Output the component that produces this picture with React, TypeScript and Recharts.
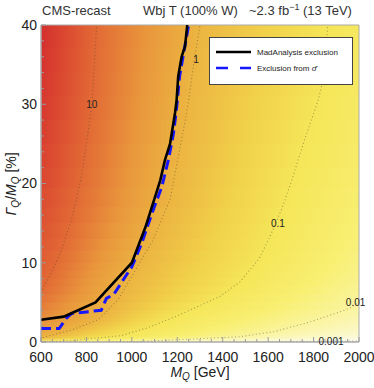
import React from 'react'
import { ComposedChart, XAxis, YAxis, Line, Scatter, ReferenceArea } from 'recharts'

type Pt = { x: number; y: number }

const xMajor = [600, 800, 1000, 1200, 1400, 1600, 1800, 2000]
const xMinor = [650, 700, 750, 850, 900, 950, 1050, 1100, 1150, 1250, 1300, 1350, 1450, 1500, 1550, 1650, 1700, 1750, 1850, 1900, 1950]
const yMajor = [0, 10, 20, 30, 40]
const yMinor = [2, 4, 6, 8, 12, 14, 16, 18, 22, 24, 26, 28, 32, 34, 36, 38]

// exclusion curves, M_Q [GeV] vs Gamma_Q/M_Q [%]
const madMass = [600, 700, 840, 1000, 1060, 1125, 1146, 1168, 1190, 1197, 1204, 1219, 1234, 1244]
const madWidth = [2.8, 3.2, 5.0, 10.0, 14.5, 20.4, 23.0, 25.0, 28.9, 30.5, 33.5, 36.0, 37.3, 40.0]
const sigMass = [600, 680, 712, 735, 865, 888, 920, 1000, 1044, 1088, 1132, 1161, 1183, 1197, 1210, 1225, 1250]
const sigWidth = [1.7, 1.7, 3.0, 3.6, 4.0, 5.5, 6.0, 9.5, 12.5, 16.2, 19.6, 23.0, 26.3, 29.5, 33.5, 36.0, 40.0]

// contour lines of the cross-section map (points past the frame only steer the colour map)
const c100Mass = [-600, 100, 250, 400, 490, 540]
const c100Width = [0, 3, 10, 20, 30, 40]
const c10Mass = [100, 400, 520, 600, 645, 690, 740, 779, 805, 824, 835, 845]
const c10Width = [0, 2, 4.5, 6.3, 8.7, 11.6, 16, 21, 26, 30, 35, 40]
const c1Mass = [300, 480, 600, 733, 851, 939, 1010, 1094, 1168, 1195, 1235, 1250, 1270, 1300]
const c1Width = [0, 0.3, 0.5, 1.5, 2.8, 5.3, 8.8, 12.9, 18, 22, 28, 30.5, 34.7, 40]
const c01Mass = [620, 730, 845, 953, 1071, 1200, 1300, 1390, 1476, 1560, 1608, 1660, 1704, 1760, 1820, 1850, 1862]
const c01Width = [0, 0.15, 0.5, 0.8, 1.8, 3.3, 4.6, 5.8, 7.6, 10.5, 13.3, 16.8, 20.4, 25.5, 30.5, 34, 40]
const c001Mass = [900, 1027, 1250, 1476, 1623, 1770, 1916, 1962, 2150, 2350, 2600, 2900]
const c001Width = [0, 0.05, 0.35, 0.67, 1.3, 2.4, 3.8, 4.3, 8, 15, 25, 40]
const c0001Mass = [1400, 1500, 1700, 1830, 1930, 2000, 2300, 2600, 3000, 3500]
const c0001Width = [0, 0.02, 0.05, 0.08, 0.1, 0.12, 1, 3, 10, 40]

const contourText = ['10', '1', '0.1', '0.01', '0.001']
const contourTextMass = [824, 1282, 1643, 1985, 1877]
const contourTextWidth = [30, 35.7, 14.9, 5.0, 0.1]

// colour at each half decade, from 100 down to 0.0003
const levelColors = ['#cf1f2c', '#da4430', '#e26a35', '#e9973c', '#ecb541', '#f1d04a', '#f5e558', '#f8ef72', '#faf49e', '#fbf8c8', '#fafae8', '#eceffb']
const rowEdges = [0, 0.15, 0.3, 0.5, 0.75, 1, 1.3, 1.6, 2, 2.5, 3, 3.5, 4, 5, 6, 7, 8, 9, 10, 11.5, 13, 15, 17, 19.5, 22, 25, 28, 31, 34, 37, 40]

const zip = (xs: number[], ys: number[]): Pt[] => xs.map((x, i) => ({ x, y: ys[i] }))

const mad = zip(madMass, madWidth)
const sig = zip(sigMass, sigWidth)
const levels = [
  zip(c100Mass, c100Width),
  zip(c10Mass, c10Width),
  zip(c1Mass, c1Width),
  zip(c01Mass, c01Width),
  zip(c001Mass, c001Width),
  zip(c0001Mass, c0001Width),
]
const contourLabels = contourText.map((label, i) => ({ x: contourTextMass[i], y: contourTextWidth[i], label }))

const allX = [...xMajor, ...xMinor].sort((a, b) => a - b)
const allY = [...yMajor, ...yMinor].sort((a, b) => a - b)

function massAt(c: Pt[], w: number) {
  for (let i = 1; i < c.length; i++) {
    if (w <= c[i].y) {
      const a = c[i - 1]
      const b = c[i]
      return a.x + ((w - a.y) / (b.y - a.y)) * (b.x - a.x)
    }
  }
  return c[c.length - 1].x
}

// positions (fraction of the x range) of every half-decade level along one row
function rowStops(w: number) {
  const whole = levels.map((c) => massAt(c, w))
  const xs: number[] = []
  whole.forEach((m, i) => {
    xs.push(m)
    const next = i < whole.length - 1 ? whole[i + 1] : m + (m - whole[i - 1]) / 2
    xs.push(i < whole.length - 1 ? (m + next) / 2 : next)
  })
  return xs.map((m) => (m - 600) / 1400)
}

const tickGray = '#9a9a9a'
const frameGray = '#aaaaaa'

function BottomTick(p: any) {
  const v = p.payload.value
  const major = xMajor.includes(v)
  const y0 = p.y - 10
  return (
    <g>
      <line x1={p.x} x2={p.x} y1={y0} y2={y0 - (major ? 5 : 3)} stroke={tickGray} />
      {major && (
        <text x={p.x} y={p.y} dy="0.71em" textAnchor="middle" fontSize={14} fill="#222">
          {v}
        </text>
      )}
    </g>
  )
}

function LeftTick(p: any) {
  const v = p.payload.value
  const major = yMajor.includes(v)
  const x0 = p.x + 4
  return (
    <g>
      <line x1={x0} x2={x0 + (major ? 5 : 3)} y1={p.y} y2={p.y} stroke={tickGray} />
      {major && (
        <text x={p.x} y={p.y} dy="0.35em" textAnchor="end" fontSize={14} fill="#222">
          {v}
        </text>
      )}
    </g>
  )
}

function TopTick(p: any) {
  const major = xMajor.includes(p.payload.value)
  return <line x1={p.x} x2={p.x} y1={p.y} y2={p.y + (major ? 5 : 3)} stroke={tickGray} />
}

function RightTick(p: any) {
  const major = yMajor.includes(p.payload.value)
  return <line x1={p.x} x2={p.x - (major ? 5 : 3)} y1={p.y} y2={p.y} stroke={tickGray} />
}

export default function App() {
  return (
    <div
      style={{
        position: 'absolute',
        left: 0,
        top: 0,
        width: 374,
        height: 388,
        background: '#fff',
        fontFamily: '"Liberation Sans", Arial, sans-serif',
      }}
    >
      <ComposedChart width={374} height={388} margin={{ top: 25, right: 15, bottom: 0, left: 0 }}>
        <defs>
          {rowEdges.slice(0, -1).map((w0, i) => {
            const f = rowStops((w0 + rowEdges[i + 1]) / 2)
            const a = f[0]
            const b = f[f.length - 1]
            return (
              <linearGradient key={i} id={`row${i}`} x1={a} y1={0} x2={b} y2={0}>
                {f.map((p, k) => (
                  <stop key={k} offset={(p - a) / (b - a)} stopColor={levelColors[k]} />
                ))}
              </linearGradient>
            )
          })}
        </defs>

        {rowEdges.slice(0, -1).map((w0, i) => {
          const w1 = rowEdges[i + 1]
          return (
            <ReferenceArea
              key={`r${i}`}
              x1={600}
              x2={2000}
              y1={w0}
              y2={Math.min(40, w1 + (w1 - w0) * 0.3)}
              fill={`url(#row${i})`}
              fillOpacity={1}
              stroke="none"
            />
          )
        })}

        {levels.slice(1).map((c, i) => (
          <Line
            key={`c${i}`}
            data={c}
            dataKey="y"
            stroke="#4a4030"
            strokeOpacity={0.45}
            strokeWidth={1.1}
            strokeDasharray="1 2.5"
            dot={false}
            activeDot={false}
            isAnimationActive={false}
          />
        ))}

        <Line data={sig} dataKey="y" stroke="#1616ff" strokeWidth={3} strokeDasharray="10 5" dot={false} activeDot={false} isAnimationActive={false} />
        <Line data={mad} dataKey="y" stroke="#000" strokeWidth={2.6} dot={false} activeDot={false} isAnimationActive={false} />

        <ReferenceArea x1={600} x2={2000} y1={0} y2={40} fill="none" fillOpacity={0} stroke={frameGray} />

        <XAxis
          dataKey="x"
          type="number"
          domain={[600, 2000]}
          allowDataOverflow
          ticks={allX}
          interval={0}
          height={46}
          tickSize={0}
          tickMargin={10}
          tickLine={false}
          axisLine={{ stroke: frameGray }}
          tick={BottomTick}
        />
        <YAxis
          type="number"
          domain={[0, 40]}
          allowDataOverflow
          ticks={allY}
          interval={0}
          width={41}
          tickSize={0}
          tickMargin={4}
          tickLine={false}
          axisLine={{ stroke: frameGray }}
          tick={LeftTick}
        />
        <XAxis
          xAxisId="top"
          orientation="top"
          dataKey="x"
          type="number"
          domain={[600, 2000]}
          ticks={allX}
          interval={0}
          height={0}
          tickSize={0}
          tickMargin={0}
          tickLine={false}
          axisLine={{ stroke: frameGray }}
          tick={TopTick}
        />
        <YAxis
          yAxisId="right"
          orientation="right"
          dataKey="y"
          type="number"
          domain={[0, 40]}
          ticks={allY}
          interval={0}
          width={0}
          tickSize={0}
          tickMargin={0}
          tickLine={false}
          axisLine={{ stroke: frameGray }}
          tick={RightTick}
        />

        <Scatter
          data={contourLabels}
          xAxisId="top"
          yAxisId="right"
          isAnimationActive={false}
          shape={(p: any) => (
            <text x={p.cx} y={p.cy} dy="0.35em" textAnchor="middle" fontSize={10} fill="#222">
              {p.payload.label}
            </text>
          )}
        />
      </ComposedChart>

      <svg
        width={374}
        height={388}
        style={{ position: 'absolute', left: 0, top: 0, pointerEvents: 'none' }}
        fontFamily='"Liberation Sans", Arial, sans-serif'
      >
        <text x={42} y={15} fontSize={13} fill="#333">CMS-recast</text>
        <text x={143} y={15} fontSize={13} fill="#333">Wbj T (100% W)</text>
        <text x={249} y={15} fontSize={13} fill="#333">
          ~2.3 fb<tspan dy={-5} fontSize={9}>−1</tspan>
          <tspan dy={5}> (13 TeV)</tspan>
        </text>

        <text x={200} y={377} textAnchor="middle" fontSize={14} fill="#222">
          <tspan fontStyle="italic">M</tspan>
          <tspan fontStyle="italic" fontSize={10} dy={3}>Q</tspan>
          <tspan dy={-3}> [GeV]</tspan>
        </text>

        <text transform="rotate(-90)" x={-184} y={16} textAnchor="middle" fontSize={14} fill="#222">
          <tspan fontStyle="italic">Γ</tspan>
          <tspan fontStyle="italic" fontSize={10} dy={3}>Q</tspan>
          <tspan dy={-3}>/</tspan>
          <tspan fontStyle="italic">M</tspan>
          <tspan fontStyle="italic" fontSize={10} dy={3}>Q</tspan>
          <tspan dy={-3}> [%]</tspan>
        </text>

        <rect x={209.5} y={37.5} width={143} height={47} fill="#fff" stroke="#444" />
        <line x1={216} x2={251} y1={52} y2={52} stroke="#000" strokeWidth={2.6} />
        <text x={257} y={52} dy="0.35em" fontSize={8} fill="#222">MadAnalysis exclusion</text>
        <line x1={216} x2={251} y1={68} y2={68} stroke="#1616ff" strokeWidth={2.6} strokeDasharray="12 12" />
        <text x={257} y={68} dy="0.35em" fontSize={8} fill="#222">
          Exclusion from <tspan fontStyle="italic">σ̂</tspan>
        </text>
      </svg>
    </div>
  )
}
